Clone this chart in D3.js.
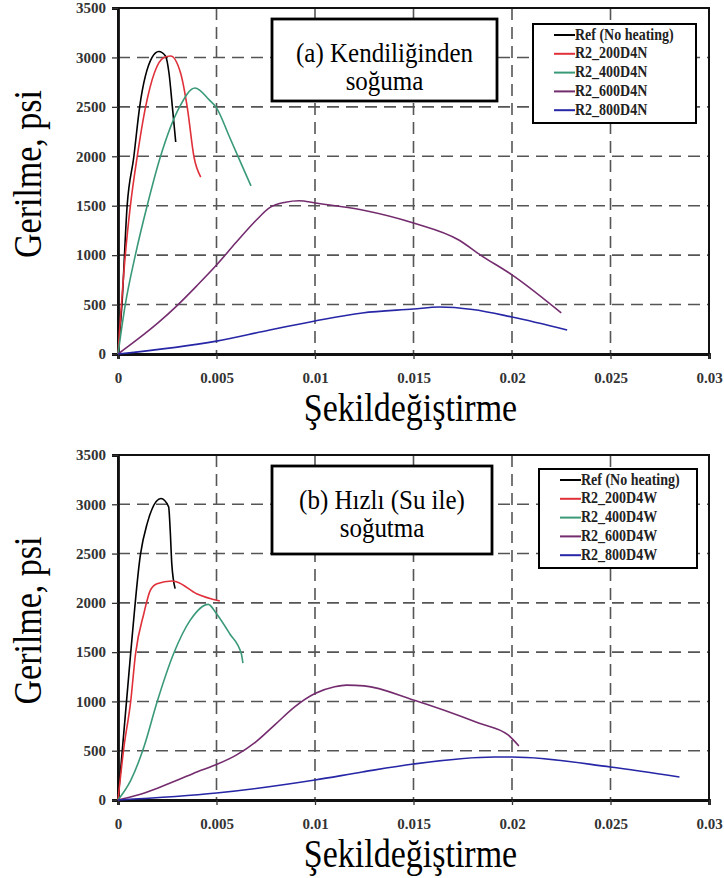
<!DOCTYPE html>
<html>
<head>
<meta charset="utf-8">
<script src="https://cdn.jsdelivr.net/npm/d3@7"></script>
<style>
  body { margin: 0; background: #fff; }
  svg { display: block; }
</style>
</head>
<body>
<svg width="724" height="878"></svg>
<script>
// strain (x) / stress psi (y)
var xTicks = [0, 0.005, 0.01, 0.015, 0.02, 0.025, 0.03];
var yTicks = [0, 500, 1000, 1500, 2000, 2500, 3000, 3500];
var colors = ["#000000", "#e0303a", "#3a9a78", "#742c6e", "#2626a6"];

var namesA = ["Ref (No heating)", "R2_200D4N", "R2_400D4N", "R2_600D4N", "R2_800D4N"];
var namesB = ["Ref (No heating)", "R2_200D4W", "R2_400D4W", "R2_600D4W", "R2_800D4W"];

var refA = [[0,0],[0.0002,500],[0.00046,1490],[0.0008,1990],[0.0011,2500],[0.00173,3000],[0.00207,3060],[0.00241,3015],[0.00259,2840],[0.00276,2500],[0.00293,2145]];
var r200A = [[0,0],[0.00037,1000],[0.00063,1500],[0.00097,1990],[0.00139,2490],[0.00233,3000],[0.00267,3015],[0.00318,2840],[0.00352,2490],[0.00386,1990],[0.0042,1790]];
var r400A = [[0,0],[0.00037,500],[0.00088,1000],[0.00148,1500],[0.00216,2000],[0.0031,2490],[0.00391,2690],[0.00463,2570],[0.005,2490],[0.00565,2200],[0.00633,1890],[0.00675,1700]];
var r600A = [[0,0],[0.001,150],[0.002,310],[0.003,490],[0.004,690],[0.005,900],[0.006,1130],[0.007,1350],[0.0077,1480],[0.0085,1535],[0.0092,1550],[0.01,1528],[0.0124,1457],[0.015,1325],[0.0173,1153],[0.0184,1001],[0.02,800],[0.0225,415]];
var r800A = [[0,0],[0.005,130],[0.0077,243],[0.01,334],[0.0124,415],[0.015,455],[0.0163,475],[0.018,450],[0.02,374],[0.0228,243]];

var refB = [[0,0],[0.00064,1483],[0.00114,2493],[0.00148,2804],[0.00218,3058],[0.00257,2974],[0.00265,2737],[0.00273,2398],[0.0029,2144]];
var r200B = [[0,0],[0.0003,535],[0.00064,992],[0.00089,1483],[0.00131,1890],[0.00164,2127],[0.00198,2195],[0.00273,2222],[0.00299,2212],[0.00399,2093],[0.00517,2019]];
var r400B = [[0,0],[0.00064,196],[0.00131,535],[0.00198,992],[0.00282,1483],[0.00366,1822],[0.00458,1985],[0.005,1890],[0.00567,1687],[0.00626,1483],[0.00634,1389]];
var r600B = [[0,0],[0.001,50],[0.002,120],[0.003,200],[0.004,285],[0.005,360],[0.006,455],[0.007,590],[0.008,770],[0.009,950],[0.01,1080],[0.011,1148],[0.0116,1165],[0.0125,1158],[0.015,1014],[0.0183,781],[0.0198,660],[0.02035,548]];
var r800B = [[0,0],[0.005,71],[0.01,203],[0.0124,284],[0.015,365],[0.0191,436],[0.02,436],[0.025,335],[0.0285,233]];

var svg = d3.select("svg");
var serif = "'Liberation Serif'";
var tall = 1.18; // glyphs in the figure look taller/narrower than Times

function label(g, x, y, txt, size, bold, anchor, stretch) {
  return g.append("text")
    .attr("transform", "translate(" + x + "," + y + ") scale(1," + (stretch || tall) + ")")
    .attr("text-anchor", anchor || "middle")
    .style("font-family", serif)
    .style("font-size", size + "px")
    .style("font-weight", bold ? "bold" : "normal")
    .text(txt);
}

function drawChart(top, bottom, series, names, title1, title2, box, legendPos) {
  var left = 118, right = 709;
  var x = d3.scaleLinear().domain([0, 0.03]).range([left, right]);
  var y = d3.scaleLinear().domain([0, 3500]).range([bottom, top]);
  var g = svg.append("g");

  // grid
  g.append("g").selectAll("line")
    .data(yTicks.slice(1))
    .enter().append("line")
    .attr("x1", left).attr("x2", right)
    .attr("y1", function(d) { return y(d); })
    .attr("y2", function(d) { return y(d); })
    .attr("stroke", "#555").attr("stroke-width", 1.6)
    .attr("stroke-dasharray", "12,7");
  g.append("g").selectAll("line")
    .data(xTicks.slice(1, -1))
    .enter().append("line")
    .attr("y1", top).attr("y2", bottom)
    .attr("x1", function(d) { return x(d); })
    .attr("x2", function(d) { return x(d); })
    .attr("stroke", "#555").attr("stroke-width", 1.6)
    .attr("stroke-dasharray", "12,7");

  // frame
  g.append("rect")
    .attr("x", left).attr("y", top)
    .attr("width", right - left).attr("height", bottom - top)
    .attr("fill", "none").attr("stroke", "#111").attr("stroke-width", 2);

  // axes
  var yAxis = g.append("g")
    .attr("transform", "translate(" + left + ",0)")
    .call(d3.axisLeft(y).tickValues(yTicks).tickSize(6).tickPadding(6).tickFormat(d3.format("d")));
  var xAxis = g.append("g")
    .attr("transform", "translate(0," + bottom + ")")
    .call(d3.axisBottom(x).tickValues(xTicks).tickSize(5).tickPadding(13).tickFormat(function(d) { return d === 0 ? "0" : String(+d.toFixed(3)); }));
  [yAxis, xAxis].forEach(function(a) {
    a.select(".domain").attr("stroke", "#111").attr("stroke-width", 2.8);
    a.selectAll(".tick line").attr("stroke", "#333").attr("stroke-width", 1.3);
    a.selectAll("text")
      .attr("fill", "#333")
      .style("font-family", serif)
      .style("font-weight", "bold")
      .style("font-size", "15px");
  });

  // curves
  var line = d3.line()
    .x(function(d) { return x(d[0]); })
    .y(function(d) { return y(d[1]); })
    .curve(d3.curveMonotoneX);
  g.append("g").selectAll("path")
    .data(series)
    .enter().append("path")
    .attr("d", line)
    .attr("fill", "none")
    .attr("stroke", function(d, i) { return colors[i]; })
    .attr("stroke-width", 1.6);

  // axis titles
  label(g, (left + right) / 2 - 3, bottom + 67, "Şekildeğiştirme", 34, false);
  g.append("text")
    .attr("transform", "translate(41," + ((top + bottom) / 2 - 7) + ") scale(" + tall + ",1) rotate(-90)")
    .attr("text-anchor", "middle")
    .style("font-family", serif)
    .style("font-size", "34px")
    .text("Gerilme, psi");

  // title box
  g.append("rect")
    .attr("x", box[0]).attr("y", box[1])
    .attr("width", box[2]).attr("height", box[3])
    .attr("fill", "#fff").attr("stroke", "#000").attr("stroke-width", 2.8);
  var cx = box[0] + box[2] / 2;
  label(g, cx, box[1] + 43, title1, 25, false, "middle", 1.1);
  label(g, cx, box[1] + 71, title2, 25, false, "middle", 1.1);

  // legend
  var lx = legendPos[0], ly = legendPos[1];
  g.append("rect")
    .attr("x", lx).attr("y", ly)
    .attr("width", legendPos[2]).attr("height", 99)
    .attr("fill", "#fff").attr("stroke", "#000").attr("stroke-width", 2);
  names.forEach(function(d, i) {
    var ry = ly + 11 + i * 18.8;
    g.append("line")
      .attr("x1", lx + 21).attr("x2", lx + 42)
      .attr("y1", ry).attr("y2", ry)
      .attr("stroke", colors[i])
      .attr("stroke-width", 2);
    label(g, lx + 42, ry + 4.5, d, 14, true, "start").attr("fill", "#222");
  });
}

drawChart(8, 354, [refA, r200A, r400A, r600A, r800A], namesA,
  "(a) Kendiliğinden", "soğuma", [272, 19, 225, 82], [533, 24, 163]);
drawChart(455, 800, [refB, r200B, r400B, r600B, r800B], namesB,
  "(b) Hızlı (Su ile)", "soğutma", [272, 466, 220, 88], [539, 469, 158]);
</script>
</body>
</html>
